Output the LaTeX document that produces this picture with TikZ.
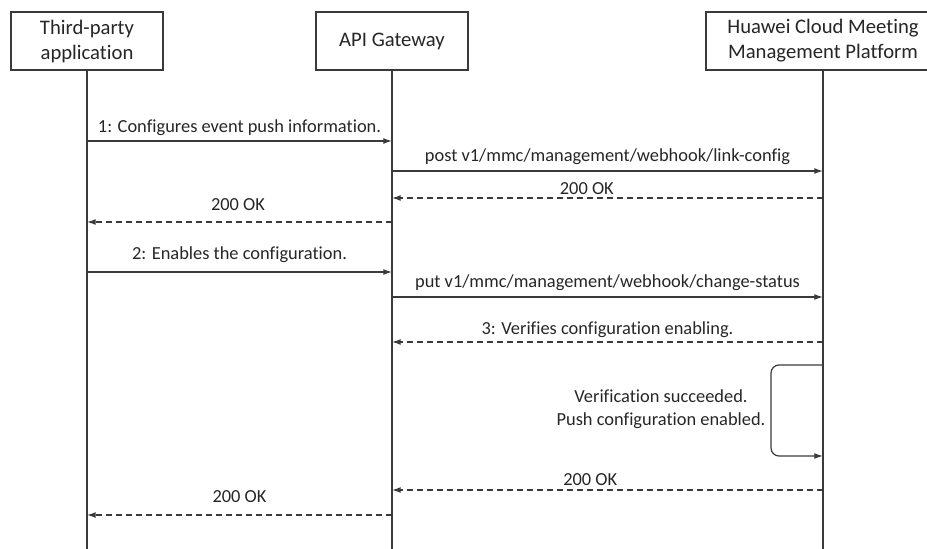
\documentclass[tikz,border=0pt]{standalone}
\usepackage{fontspec}
\setmainfont{Carlito}[Ligatures=NoCommon]
\usetikzlibrary{arrows.meta}

\definecolor{lineGray}{HTML}{3A3A3A}
\definecolor{textGray}{HTML}{262626}

\tikzset{every picture/.style={line width=0.9pt}}

\begin{document}
\begin{tikzpicture}[x=0.75pt,y=0.75pt,yscale=-1,xscale=1,
	actor/.style={draw=lineGray, fill=white, text=textGray, align=center, minimum height=43.5pt, inner sep=0pt, font=\fontsize{15.5}{18.75}\selectfont},
	life/.style={draw=lineGray},
	msg/.style={draw=lineGray, -{Latex[length=6.5pt,width=4.4pt]}},
	reply/.style={msg, dash pattern={on 4.5pt off 3pt}},
	lbl/.style={text=textGray, anchor=south, inner xsep=0pt, text depth=0pt, font=\fontsize{13.8}{17.25}\selectfont}]
	\useasboundingbox (0,0) rectangle (927,549);
	
	% Lifeline heads
	\node [actor, minimum width=114pt] (app) at (87,41) {Third-party\\application};
	\node [actor, minimum width=114pt] (gw) at (392,41) {API Gateway};
	\node [actor, minimum width=175.5pt] (pf) at (823,41) {Huawei Cloud Meeting\\Management Platform};
	
	% Lifelines
	\coordinate (bot) at (0,549);
	\draw [life] (app.south) -- (app |- bot);
	\draw [life] (gw.south) -- (gw |- bot);
	\draw [life] (pf.south) -- (pf |- bot);
	
	% Message rows
	\coordinate (m1) at (0,141);
	\coordinate (m2) at (0,171);
	\coordinate (m3) at (0,198);
	\coordinate (m4) at (0,222);
	\coordinate (m5) at (0,272);
	\coordinate (m6) at (0,297);
	\coordinate (m7) at (0,342);
	\coordinate (s1) at (0,365);
	\coordinate (s2) at (0,456);
	\coordinate (lp) at (771,0);
	\coordinate (m8) at (0,490);
	\coordinate (m9) at (0,515);
	
	% Messages
	\draw [msg] (app |- m1) -- node [lbl, inner ysep=6pt] {1: Configures event push information.} (gw |- m1);
	\draw [msg] (gw |- m2) -- node [lbl, inner ysep=6.5pt] {post v1/mmc/management/webhook/link-config} (pf |- m2);
	\draw [reply] (pf |- m3) -- node [lbl, inner ysep=2.3pt, pos=0.548] {200 OK} (gw |- m3);
	\draw [reply] (gw |- m4) -- node [lbl, inner ysep=7.9pt, pos=0.505] {200 OK} (app |- m4);
	\draw [msg] (app |- m5) -- node [lbl, inner ysep=9pt] {2: Enables the configuration.} (gw |- m5);
	\draw [msg] (gw |- m6) -- node [lbl, inner ysep=6.5pt] {put v1/mmc/management/webhook/change-status} (pf |- m6);
	\draw [reply] (pf |- m7) -- node [lbl, inner ysep=5.2pt] {3: Verifies configuration enabling.} (gw |- m7);
	
	% Self message
	\draw [msg, rounded corners=6pt] (pf |- s1) -- (lp |- s1) -- (lp |- s2) -- (pf |- s2);
	\node [lbl, anchor=center, align=center] (note) at (661,408) {Verification succeeded.\\Push configuration enabled.};
	
	\draw [reply] (pf |- m8) -- node [lbl, inner ysep=3pt, pos=0.54] {200 OK} (gw |- m8);
	\draw [reply] (gw |- m9) -- node [lbl, inner ysep=9pt, pos=0.5] {200 OK} (app |- m9);
	
\end{tikzpicture}
\end{document}
